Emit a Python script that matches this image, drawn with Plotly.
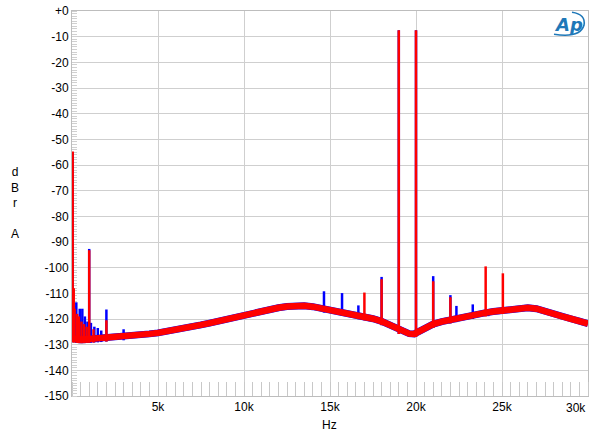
import numpy as np
import plotly.graph_objects as go

# ---- data ----
floor_freq = [20, 250, 500, 1000, 1500, 2000, 2500, 3000, 3500, 4000, 4500, 5000,
              5500, 6000, 6500, 7000, 7500, 8000, 8500, 9000, 9500, 10000, 10500,
              11000, 11500, 12000, 12500, 13000, 13500, 14000, 14500, 15000, 15500,
              16000, 16500, 17000, 17500, 18000, 18500, 19000, 19300, 19600, 19900,
              20200, 20500, 21000, 21500, 22000, 22500, 23000, 23500, 24000, 24500,
              25000, 25500, 26000, 26500, 27000, 27500, 28000, 28500, 29000, 29500,
              30000]
floor_db = [-127.5, -127.8, -128.0, -127.8, -127.6, -127.3, -127.0, -126.8, -126.5,
            -126.2, -125.8, -125.4, -124.9, -124.3, -123.6, -123.0, -122.3, -121.6,
            -120.8, -120.0, -119.3, -118.6, -117.8, -117.0, -116.3, -115.6, -115.1,
            -114.7, -114.8, -115.2, -115.8, -116.5, -117.1, -117.7, -118.4, -119.0,
            -119.9, -120.9, -122.3, -124.3, -125.2, -125.7, -125.8, -124.8, -123.4,
            -122.0, -121.0, -120.2, -119.5, -118.9, -118.2, -117.6, -117.1, -116.6,
            -116.0, -115.6, -115.6, -116.0, -116.8, -117.9, -119.0, -119.9, -120.8,
            -121.8]

blue_spike_freq = [40, 250, 450, 600, 750, 900, 1000, 1100, 1300, 1500, 1700, 2000,
                   3000, 14650, 15700, 16650, 18000, 19000, 20000, 21000, 22000,
                   22350, 23300, 24200]
blue_spike_db = [-55.0, -113.5, -116.0, -116.0, -119.0, -121.0, -92.7, -121.5, -123.0,
                 -123.5, -124.5, -116.3, -124.0, -109.2, -109.9, -114.7, -103.6, -7.5,
                 -7.5, -103.3, -110.7, -114.9, -114.3, -117.0]

red_spike_freq = [40, 100, 150, 300, 400, 550, 700, 850, 1000, 1250, 2000, 17000,
                  18000, 19000, 20000, 21000, 22000, 24050, 25050]
red_spike_db = [-54.7, -108.0, -116.0, -118.0, -119.0, -121.0, -122.0, -123.0, -93.2,
                -124.0, -120.5, -109.7, -104.5, -7.5, -7.5, -105.3, -111.5, -99.5,
                -102.2]

y_ticks = list(range(-150, 1, 10))
y_ticktext = ["+0" if v == 0 else str(v) for v in y_ticks]
x_ticks = [5000, 10000, 15000, 20000, 25000]
x_ticktext = ["5k", "10k", "15k", "20k", "25k"]

BLUE = "#0000ff"
RED = "#ff0000"
FONT = "Liberation Sans, Arial, sans-serif"

# plot area in page pixels: x 72..588, y 10.7..395.7
L, R, T, B = 72, 588, 10.7, 395.7


def px(x):
    return (x - L) / (R - L)


def py(y):
    return (B - y) / (B - T)


def spike_xy(freqs, levels):
    xs, ys = [], []
    for f, lv in zip(freqs, levels):
        base = float(np.interp(f, floor_freq, floor_db)) - 1.5
        xs += [f, f, None]
        ys += [base, lv, None]
    return xs, ys


fig = go.Figure()
fig.add_trace(go.Scatter(x=floor_freq, y=floor_db, mode="lines",
                         line=dict(color=BLUE, width=7), hoverinfo="skip"))
bx, by = spike_xy(blue_spike_freq, blue_spike_db)
fig.add_trace(go.Scatter(x=bx, y=by, mode="lines",
                         line=dict(color=BLUE, width=2.5), hoverinfo="skip"))
fig.add_trace(go.Scatter(x=floor_freq, y=floor_db, mode="lines",
                         line=dict(color=RED, width=6.5), hoverinfo="skip"))
rx, ry = spike_xy(red_spike_freq, red_spike_db)
fig.add_trace(go.Scatter(x=rx, y=ry, mode="lines",
                         line=dict(color=RED, width=2.5), hoverinfo="skip"))

GRID = "#cfcfcf"
fig.update_layout(
    width=600, height=442,
    margin=dict(l=L, r=600 - R, t=T, b=442 - B, autoexpand=False),
    paper_bgcolor="white", plot_bgcolor="white",
    showlegend=False,
    font=dict(family=FONT, size=11, color="black"),
    xaxis=dict(range=[0, 30000], tickvals=x_ticks, ticktext=x_ticktext,
               showgrid=True, gridcolor=GRID, gridwidth=1, zeroline=False,
               showline=True, mirror=True, linecolor="#bdbdbd", linewidth=1,
               ticks="", tickfont=dict(size=12), automargin=False,
               layer="below traces",
               minor=dict(dtick=500, tick0=0, ticks="inside", ticklen=14,
                          tickcolor="#c8c8c8", tickwidth=1, showgrid=False)),
    yaxis=dict(range=[-150, 0], tickvals=y_ticks, ticktext=y_ticktext,
               showgrid=True, gridcolor=GRID, gridwidth=1, zeroline=False,
               showline=True, mirror=True, linecolor="#bdbdbd", linewidth=1,
               ticks="", tickfont=dict(size=12), automargin=False,
               layer="below traces",
               minor=dict(dtick=1, tick0=0, ticks="inside", ticklen=5,
                          tickcolor="#d0d0d0", tickwidth=1, showgrid=False)),
    annotations=[
        dict(text="30k", x=1.0, y=0, xref="paper", yref="paper",
             xanchor="right", yanchor="top", yshift=-3, showarrow=False,
             font=dict(size=12)),
        dict(text="Hz", x=px(329), y=py(425), xref="paper",
             yref="paper", xanchor="center", yanchor="middle", showarrow=False,
             font=dict(size=12)),
        dict(text="d<br>B<br>r<br><br>A", x=px(15), y=py(203),
             xref="paper", yref="paper", xanchor="center", yanchor="middle",
             showarrow=False, font=dict(size=12), align="center"),
        dict(text="<b><i>Ap</i></b>", x=px(568), y=py(24),
             xref="paper", yref="paper", xanchor="center", yanchor="middle",
             showarrow=False, font=dict(size=18, color="#1f78b8",
                                        family="DejaVu Sans, sans-serif")),
    ],
    shapes=[
        dict(type="path", xref="paper", yref="paper",
             path=("M {:.4f},{:.4f} Q {:.4f},{:.4f} {:.4f},{:.4f} Q {:.4f},{:.4f} {:.4f},{:.4f}"
                   .format(px(554), py(34), px(580), py(38), px(584), py(25),
                           px(586), py(14), px(572), py(12))),
             line=dict(color="#1f78b8", width=1.6)),
    ],
)

fig.write_html("out.html",
               config={"displayModeBar": False, "staticPlot": True},
               post_script="document.body.style.margin='0';"
                           "document.body.style.overflow='hidden';")
